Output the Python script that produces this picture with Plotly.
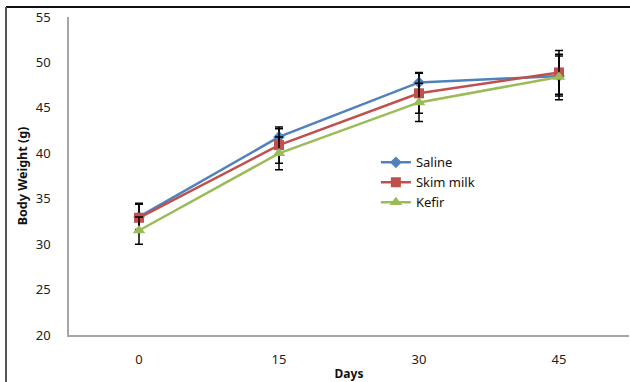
import plotly.graph_objects as go

days = ["0", "15", "30", "45"]
saline = [33.0, 41.8, 47.8, 48.5]
saline_err = [1.4, 0.9, 1.1, 2.2]
skim = [32.9, 40.9, 46.6, 48.9]
skim_err = [1.6, 2.0, 2.2, 2.4]
kefir = [31.5, 40.0, 45.6, 48.4]
kefir_err = [1.5, 1.8, 2.1, 2.5]

series = [
    ("Saline", saline, saline_err, "#4F81BD", "diamond", 9),
    ("Skim milk", skim, skim_err, "#C0504D", "square", 10),
    ("Kefir", kefir, kefir_err, "#9BBB59", "triangle-up", 11),
]

fig = go.Figure()
for name, vals, errs, col, sym, sz in series:
    fig.add_trace(go.Scatter(
        x=days, y=vals, name=name, mode="lines+markers",
        line=dict(color=col, width=2.5),
        marker=dict(symbol=sym, size=sz, color=col),
        error_y=dict(type="data", array=errs, visible=True,
                     color="black", thickness=1.5, width=4),
    ))

font_family = "Noto Sans, Arial, sans-serif"
fig.update_layout(
    width=630, height=382,
    margin=dict(l=69, r=1, t=17, b=47),
    paper_bgcolor="white", plot_bgcolor="white",
    font=dict(family=font_family, size=13, color="#222"),
    showlegend=True,
    legend=dict(x=0.548, y=0.59, xanchor="left", yanchor="top",
                bgcolor="rgba(0,0,0,0)", font=dict(size=13, color="#111"),
                tracegroupgap=0, itemwidth=30),
    xaxis=dict(type="category", range=[-0.5, 3.5], showgrid=False,
               showline=True, linecolor="#A6A6A6", linewidth=1.5,
               ticks="", zeroline=False, ticklabelstandoff=12, automargin=False,
               title=dict(text="<b>Days</b>", font=dict(size=12, color="#111"), standoff=5)),
    yaxis=dict(range=[20, 55], dtick=5, showgrid=False,
               showline=True, linecolor="#A6A6A6", linewidth=1.5,
               ticks="", zeroline=False, ticklabelstandoff=14, automargin=False,
               title=dict(text="<b>Body Weight (g)</b>", font=dict(size=12.5, color="#111"), standoff=5)),
    shapes=[
        dict(type="line", xref="paper", yref="paper",
             x0=(6 - 69) / 560, x1=(630 - 69) / 560,
             y0=1 + (17 - 7) / 318, y1=1 + (17 - 7) / 318,
             line=dict(color="#111", width=2)),
        dict(type="line", xref="paper", yref="paper",
             x0=(6 - 69) / 560, x1=(6 - 69) / 560,
             y0=1 + (17 - 7) / 318, y1=-(382 - 335) / 318,
             line=dict(color="#555", width=2)),
    ],
)

fig.write_html("out.html")
